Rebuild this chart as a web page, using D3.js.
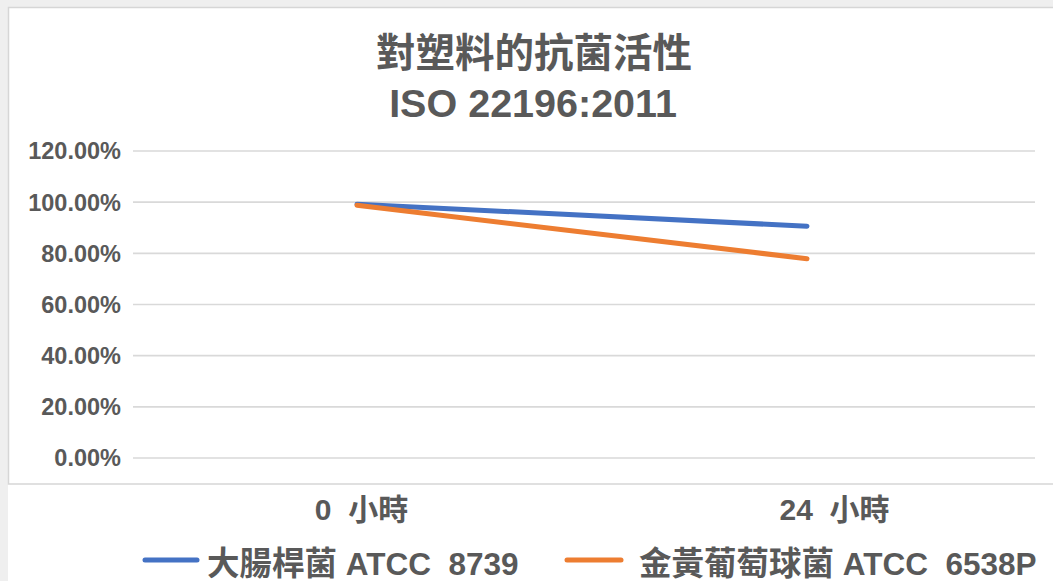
<!DOCTYPE html>
<html>
<head>
<meta charset="utf-8">
<script src="https://cdn.jsdelivr.net/npm/d3@7"></script>
<style>
  html, body { margin: 0; padding: 0; background: #efefef; }
  svg { display: block; }
  text { font-family: "Liberation Sans", "Noto Sans CJK TC", sans-serif; font-weight: bold; fill: #595959; white-space: pre; }
</style>
</head>
<body>
<svg id="chart" width="1053" height="581"></svg>
<script>
const titleLines = ["對塑料的抗菌活性", "ISO 22196:2011"];
const categories = ["0  小時", "24  小時"];
const seriesNamesCJK = ["大腸桿菌", "金黃葡萄球菌"];
const seriesNamesCode = [" ATCC  8739", " ATCC  6538P"];
const ecoliValues = [0.990, 0.904];
const staphValues = [0.986, 0.777];
const yTicks = [0, 0.2, 0.4, 0.6, 0.8, 1.0, 1.2];
const colors = ["#4472C4", "#ED7D31"];

const svg = d3.select("#chart");

// background panel
svg.append("rect").attr("x", 0).attr("y", 0).attr("width", 1053).attr("height", 581).attr("fill", "#efefef");
svg.append("rect").attr("x", 8).attr("y", 7).attr("width", 1045).attr("height", 574).attr("fill", "#ffffff");
svg.append("rect").attr("x", 8.5).attr("y", 7.5).attr("width", 1060).attr("height", 476.5)
  .attr("fill", "none").attr("stroke", "#d6d6d6").attr("stroke-width", 1.5);

const left = 132, right = 1032;
const x = d3.scalePoint().domain(categories).range([left, right]).padding(0.5);
const y = d3.scaleLinear().domain([0, 1.2]).range([457.5, 150.5]);

// title
svg.append("text").attr("x", 534).attr("y", 67).attr("text-anchor", "middle")
  .style("font-size", "39.5px").text(titleLines[0]);
svg.append("text").attr("x", 533).attr("y", 117).attr("text-anchor", "middle")
  .style("font-size", "39.5px").text(titleLines[1]);

// y axis with gridlines
const yAxis = d3.axisLeft(y).tickValues(yTicks).tickFormat(d3.format(".2%"))
  .tickSize(-(1035 - 133)).tickPadding(12);
const gy = svg.append("g").attr("transform", "translate(133,0)").call(yAxis);
gy.select(".domain").remove();
gy.selectAll(".tick line").attr("stroke", "#d9d9d9").attr("stroke-width", 1.6);
gy.selectAll(".tick text").style("font-size", "23.5px").attr("fill", "#595959")
  .attr("dy", "0.36em");

// x axis labels
const xAxis = d3.axisBottom(x).tickSize(0).tickPadding(0);
const gx = svg.append("g").attr("transform", "translate(0,498)").call(xAxis);
gx.select(".domain").remove();
gx.selectAll(".tick text").style("font-size", "30px").attr("fill", "#595959")
  .attr("dy", "0.74em")
  .attr("dx", (d, i) => i === 0 ? 4 : 27);

// lines
const line = d3.line().x((d, i) => x(categories[i])).y(d => y(d));
[ecoliValues, staphValues].forEach((vals, i) => {
  svg.append("path").datum(vals).attr("d", line)
    .attr("fill", "none").attr("stroke", colors[i]).attr("stroke-width", 5)
    .attr("stroke-linecap", "round").attr("stroke-linejoin", "round");
});

// legend
const legendItems = [
  { x1: 145, x2: 197, tx: 207 },
  { x1: 567, x2: 621, tx: 639 }
];
legendItems.forEach((it, i) => {
  svg.append("line").attr("x1", it.x1).attr("x2", it.x2).attr("y1", 560).attr("y2", 560)
    .attr("stroke", colors[i]).attr("stroke-width", 5).attr("stroke-linecap", "round");
  const t = svg.append("text").attr("x", it.tx).attr("y", 575);
  t.append("tspan").style("font-size", "32.5px").text(seriesNamesCJK[i]);
  t.append("tspan").style("font-size", "31.5px").text(seriesNamesCode[i]);
});
</script>
</body>
</html>
